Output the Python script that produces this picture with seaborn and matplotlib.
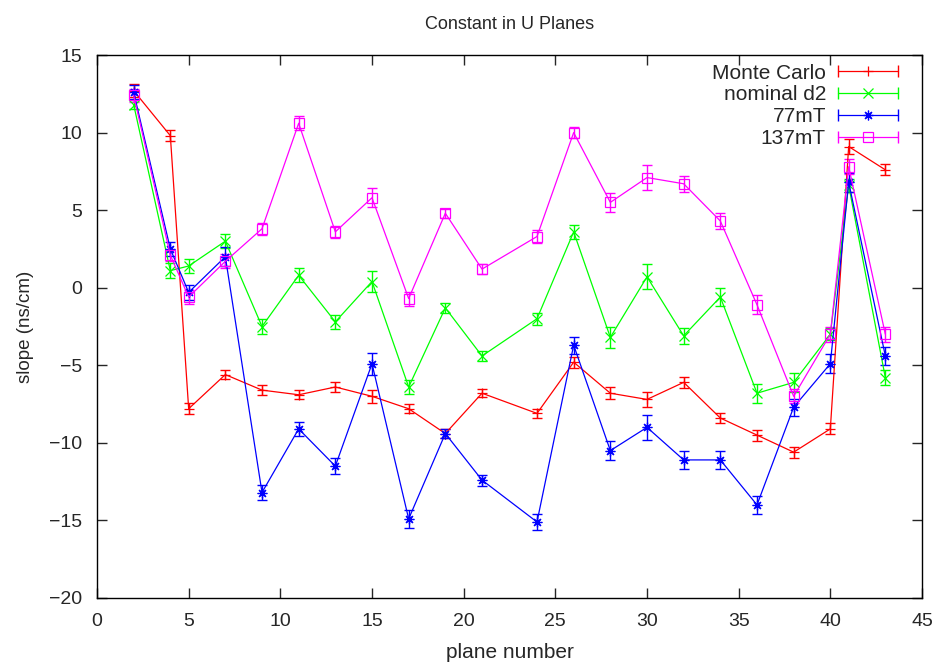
import numpy as np
import pandas as pd
import matplotlib
matplotlib.use("Agg")
import matplotlib.pyplot as plt
import seaborn as sns
from matplotlib.lines import Line2D
from matplotlib.legend_handler import HandlerBase

planes = [2, 4, 5, 7, 9, 11, 13, 15, 17, 19, 21, 24, 26, 28, 30, 32, 34, 36, 38, 40, 41, 43]

mc_vals = [12.7, 9.8, -7.8, -5.6, -6.6, -6.9, -6.4, -7.0, -7.8, -9.4, -6.8, -8.1, -4.8, -6.8, -7.2, -6.1, -8.4, -9.5, -10.6, -9.1, 9.1, 7.6]
mc_err = [0.4, 0.35, 0.35, 0.3, 0.3, 0.3, 0.3, 0.4, 0.3, 0.3, 0.25, 0.3, 0.35, 0.4, 0.5, 0.35, 0.35, 0.35, 0.35, 0.35, 0.5, 0.35]

d2_vals = [11.8, 1.1, 1.4, 3.0, -2.5, 0.8, -2.2, 0.4, -6.4, -1.3, -4.4, -2.0, 3.6, -3.2, 0.7, -3.1, -0.6, -6.8, -6.1, -3.0, 6.6, -5.8]
d2_err = [0.3, 0.5, 0.45, 0.45, 0.5, 0.45, 0.45, 0.7, 0.45, 0.3, 0.35, 0.4, 0.45, 0.7, 0.8, 0.5, 0.55, 0.6, 0.6, 0.4, 0.4, 0.5]

m77_vals = [12.6, 2.5, -0.3, 2.0, -13.2, -9.1, -11.5, -4.9, -14.9, -9.4, -12.4, -15.1, -3.7, -10.5, -9.0, -11.1, -11.1, -14.0, -7.7, -4.9, 6.8, -4.4]
m77_err = [0.45, 0.45, 0.5, 0.6, 0.5, 0.45, 0.5, 0.7, 0.6, 0.3, 0.35, 0.5, 0.55, 0.6, 0.8, 0.6, 0.6, 0.6, 0.55, 0.6, 0.6, 0.6]

m137_vals = [12.4, 2.1, -0.6, 1.7, 3.8, 10.6, 3.6, 5.8, -0.7, 4.8, 1.2, 3.3, 10.0, 5.5, 7.1, 6.7, 4.3, -1.1, -7.0, -3.0, 7.8, -3.0]
m137_err = [0.4, 0.35, 0.45, 0.45, 0.4, 0.45, 0.4, 0.6, 0.45, 0.3, 0.3, 0.45, 0.35, 0.6, 0.8, 0.5, 0.5, 0.6, 0.45, 0.5, 0.5, 0.5]

series_names = ["Monte Carlo", "nominal d2", "77mT", "137mT"]
series_vals = [mc_vals, d2_vals, m77_vals, m137_vals]
series_errs = [mc_err, d2_err, m77_err, m137_err]
colors = ["#ff0000", "#00ff00", "#0000ff", "#ff00ff"]
markers = ["+", "x", (8, 2, 0), "s"]

sns.set_style("ticks")
plt.rcParams['font.family'] = ['Liberation Sans', 'DejaVu Sans']
plt.rcParams['font.size'] = 12

fig = plt.figure(figsize=(9.45, 6.66), dpi=100)
ax = fig.add_axes([97/945, 1 - 598/666, (922 - 97)/945, (598 - 55)/666])

rows = []
for name, vals, errs in zip(series_names, series_vals, series_errs):
    for p, v, e in zip(planes, vals, errs):
        rows.append({"plane": p, "slope": v, "err": e, "series": name})
df = pd.DataFrame(rows)

handles = []
for name, col, mk in zip(series_names, colors, markers):
    sub = df[df["series"] == name]
    ax.errorbar(sub["plane"], sub["slope"], yerr=sub["err"], fmt="none",
                ecolor=col, elinewidth=1.0, capsize=3.5, capthick=1.0, zorder=2)
    sns.lineplot(data=sub, x="plane", y="slope", ax=ax, color=col, lw=0.9,
                 marker=mk, markersize=7,
                 markerfacecolor="none" if mk == "s" else col,
                 markeredgecolor=col, markeredgewidth=0.9, legend=False, zorder=3,
                 estimator=None, sort=False)
    handles.append(Line2D([], [], color=col, marker=mk, lw=0.9, markersize=7,
                          markerfacecolor="none", markeredgecolor=col, markeredgewidth=0.9))


class HandlerGnuErr(HandlerBase):
    def create_artists(self, legend, orig_handle, xdescent, ydescent, width,
                       height, fontsize, trans):
        y = height / 2 - ydescent
        x0 = -xdescent
        x1 = x0 + width
        col = orig_handle.get_color()
        line = Line2D([x0, x1], [y, y], color=col, lw=0.9)
        caps = Line2D([x0, x1], [y, y], ls="none", marker="|", markersize=8.5,
                      markeredgewidth=1.0, color=col)
        mk = Line2D([(x0 + x1) / 2], [y], ls="none", marker=orig_handle.get_marker(),
                    markersize=7, markerfacecolor="none", markeredgecolor=col,
                    markeredgewidth=0.9)
        for a in (line, caps, mk):
            a.set_transform(trans)
        return [line, caps, mk]


leg = ax.legend(handles, series_names, loc="upper right", frameon=False,
                markerfirst=False, handlelength=2.9, handletextpad=0.56,
                labelspacing=0.13, fontsize=15, borderaxespad=0.0, borderpad=0.0,
                bbox_to_anchor=((898 - 97) / 825, 0.984),
                handler_map={h: HandlerGnuErr() for h in handles})

ax.set_xlim(0, 45)
ax.set_ylim(-20, 15)
ax.set_xticks(np.arange(0, 46, 5))
ax.set_yticks(np.arange(-20, 16, 5))
ax.tick_params(direction="in", length=7, width=1, top=True, right=True,
               labelsize=14)
ax.tick_params(axis="y", pad=10.5)
ax.tick_params(axis="x", pad=11)
for s in ax.spines.values():
    s.set_visible(True)
    s.set_linewidth(1.0)
    s.set_color("black")

ax.set_xlabel("plane number", fontsize=15, labelpad=9)
ax.set_ylabel("slope (ns/cm)", fontsize=13.5, labelpad=11)
ax.set_title("Constant in U Planes", fontsize=13, pad=19)

fig.savefig("out.png", dpi=100)
